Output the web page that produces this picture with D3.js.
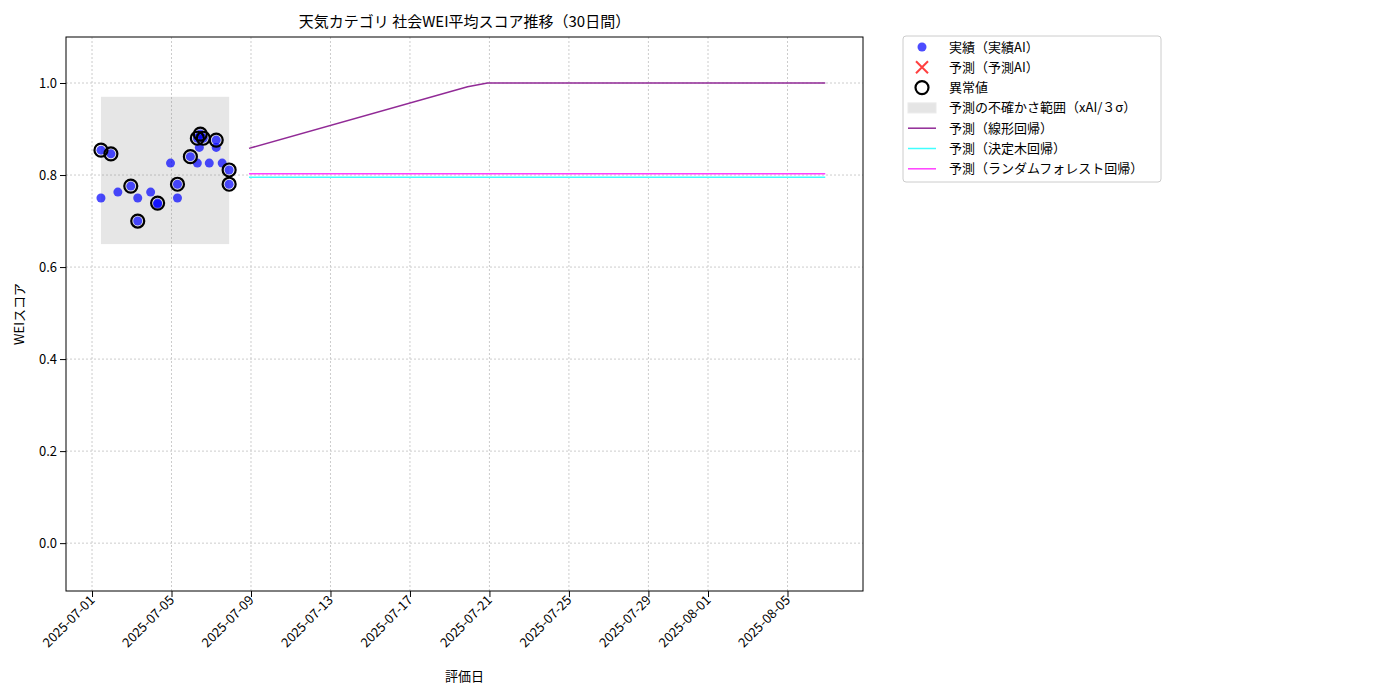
<!DOCTYPE html><html><head><meta charset="utf-8"><script src="https://cdn.jsdelivr.net/npm/d3@7"></script>
<style>body{margin:0;background:#fff}text{font-family:"Noto Sans CJK JP","DejaVu Sans",sans-serif}</style></head><body><svg id="c" width="1400" height="700"></svg><script>
// days after 2025-07-01 00:00
const actualDays=[0.45,0.95,0.45,1.3,1.95,2.3,2.3,2.95,3.3,3.3,3.95,4.3,4.3,4.95,5.3,5.4,5.3,5.45,5.6,5.9,6.25,6.25,6.55,6.9,6.9];
const actualVals=[0.854,0.846,0.75,0.763,0.776,0.75,0.70,0.763,0.739,0.737,0.826,0.78,0.75,0.84,0.826,0.86,0.88,0.889,0.88,0.826,0.86,0.876,0.826,0.811,0.78];
const outlierIdx=[0,1,4,6,8,11,13,16,17,18,21,23,24];
const bandDays=[0.45,6.9], bandVals=[0.65,0.97];
const linDays=[7.9,18.9,19.9,36.9], linVals=[0.858,0.992,1.0,1.0];
const treeDays=[7.9,36.9], treeVals=[0.795,0.795];
const rfDays=[7.9,36.9], rfVals=[0.803,0.803];
const tickDates=["2025-07-01","2025-07-05","2025-07-09","2025-07-13","2025-07-17","2025-07-21","2025-07-25","2025-07-29","2025-08-01","2025-08-05"];
const yTicks=[0,0.2,0.4,0.6,0.8,1.0];
const base=new Date(2025,6,1);const D=d=>new Date(base.getTime()+d*864e5);
const svg=d3.select("#c");
const L=66,R=863,T=37,B=591;
const x=d3.scaleTime().domain([D(-1.31),D(38.8)]).range([L,R]);
const y=d3.scaleLinear().domain([-0.104,1.1]).range([B,T]);
const pd=s=>{const [a,b,c]=s.split("-").map(Number);return new Date(a,b-1,c)};
const g=svg.append("g");
tickDates.forEach(t=>g.append("line").attr("x1",x(pd(t))).attr("x2",x(pd(t))).attr("y1",T).attr("y2",B).attr("stroke","#ccc").attr("stroke-dasharray","2,2"));
yTicks.forEach(t=>g.append("line").attr("x1",L).attr("x2",R).attr("y1",y(t)).attr("y2",y(t)).attr("stroke","#ccc").attr("stroke-dasharray","2,2"));
svg.append("rect").attr("x",x(D(bandDays[0]))).attr("width",x(D(bandDays[1]))-x(D(bandDays[0]))).attr("y",y(bandVals[1])).attr("height",y(bandVals[0])-y(bandVals[1])).attr("fill","#808080").attr("opacity",0.2);
const line=d3.line().x(d=>x(D(d[0]))).y(d=>y(d[1]));
const draw=(ds,vs,c)=>svg.append("path").attr("d",line(ds.map((d,i)=>[d,vs[i]]))).attr("fill","none").attr("stroke",c).attr("stroke-width",1.5);
draw(linDays,linVals,"#912a96");draw(treeDays,treeVals,"#40ffff");draw(rfDays,rfVals,"#ff40ff");
actualDays.forEach((d,i)=>svg.append("circle").attr("cx",x(D(d))).attr("cy",y(actualVals[i])).attr("r",4.5).attr("fill","#0000ff").attr("opacity",0.7));
outlierIdx.forEach(i=>svg.append("circle").attr("cx",x(D(actualDays[i]))).attr("cy",y(actualVals[i])).attr("r",6.5).attr("fill","none").attr("stroke","#000").attr("stroke-width",2.2));
svg.append("rect").attr("x",L).attr("y",T).attr("width",R-L).attr("height",B-T).attr("fill","none").attr("stroke","#000");
const xa=svg.append("g").attr("transform",`translate(0,${B})`).call(d3.axisBottom(x).tickValues(tickDates.map(pd)).tickFormat(d3.timeFormat("%Y-%m-%d")).tickSizeOuter(0));
xa.select(".domain").remove();
xa.selectAll("text").attr("font-size",13).attr("text-anchor","end").attr("x",0).attr("y",0).attr("dx",0).attr("dy",0)
  .attr("transform","translate(3,10) rotate(-45)").attr("fill","#000");
const ya=svg.append("g").attr("transform",`translate(${L},0)`).call(d3.axisLeft(y).tickValues(yTicks).tickFormat(d3.format(".1f")).tickSizeOuter(0));
ya.select(".domain").remove();ya.selectAll("text").attr("font-size",13).attr("fill","#000");
svg.append("text").attr("x",(L+R)/2).attr("y",27).attr("text-anchor","middle").attr("font-size",15).text("天気カテゴリ 社会WEI平均スコア推移（30日間）");
svg.append("text").attr("x",(L+R)/2).attr("y",681).attr("text-anchor","middle").attr("font-size",13).text("評価日");
svg.append("text").attr("transform",`translate(24,${(T+B)/2}) rotate(-90)`).attr("text-anchor","middle").attr("font-size",13).text("WEIスコア");
const lg=svg.append("g").attr("transform","translate(903,36)");
lg.append("rect").attr("width",258).attr("height",146).attr("fill","#fff").attr("stroke","#ccc").attr("rx",3);
const items=["実績（実績AI）","予測（予測AI）","異常値","予測の不確かさ範囲（xAI/３σ）","予測（線形回帰）","予測（決定木回帰）","予測（ランダムフォレスト回帰）"];
items.forEach((t,i)=>{const yy=11+i*20.3,cx=19;
 lg.append("text").attr("x",46).attr("y",yy+4.5).attr("font-size",13).text(t);
 if(i==0)lg.append("circle").attr("cx",cx).attr("cy",yy).attr("r",4.5).attr("fill","#0000ff").attr("opacity",0.7);
 if(i==1){lg.append("path").attr("d",`M${cx-6},${yy-6}L${cx+6},${yy+6}M${cx-6},${yy+6}L${cx+6},${yy-6}`).attr("stroke","#ff4040").attr("stroke-width",2);}
 if(i==2)lg.append("circle").attr("cx",cx).attr("cy",yy).attr("r",6.5).attr("fill","none").attr("stroke","#000").attr("stroke-width",2.2);
 if(i==3)lg.append("rect").attr("x",5).attr("y",yy-5).attr("width",28).attr("height",10).attr("fill","#808080").attr("opacity",0.2).attr("stroke","#999");
 if(i>=4)lg.append("line").attr("x1",5).attr("x2",33).attr("y1",yy).attr("y2",yy).attr("stroke",["#912a96","#40ffff","#ff40ff"][i-4]).attr("stroke-width",1.5);
});
</script></body></html>
